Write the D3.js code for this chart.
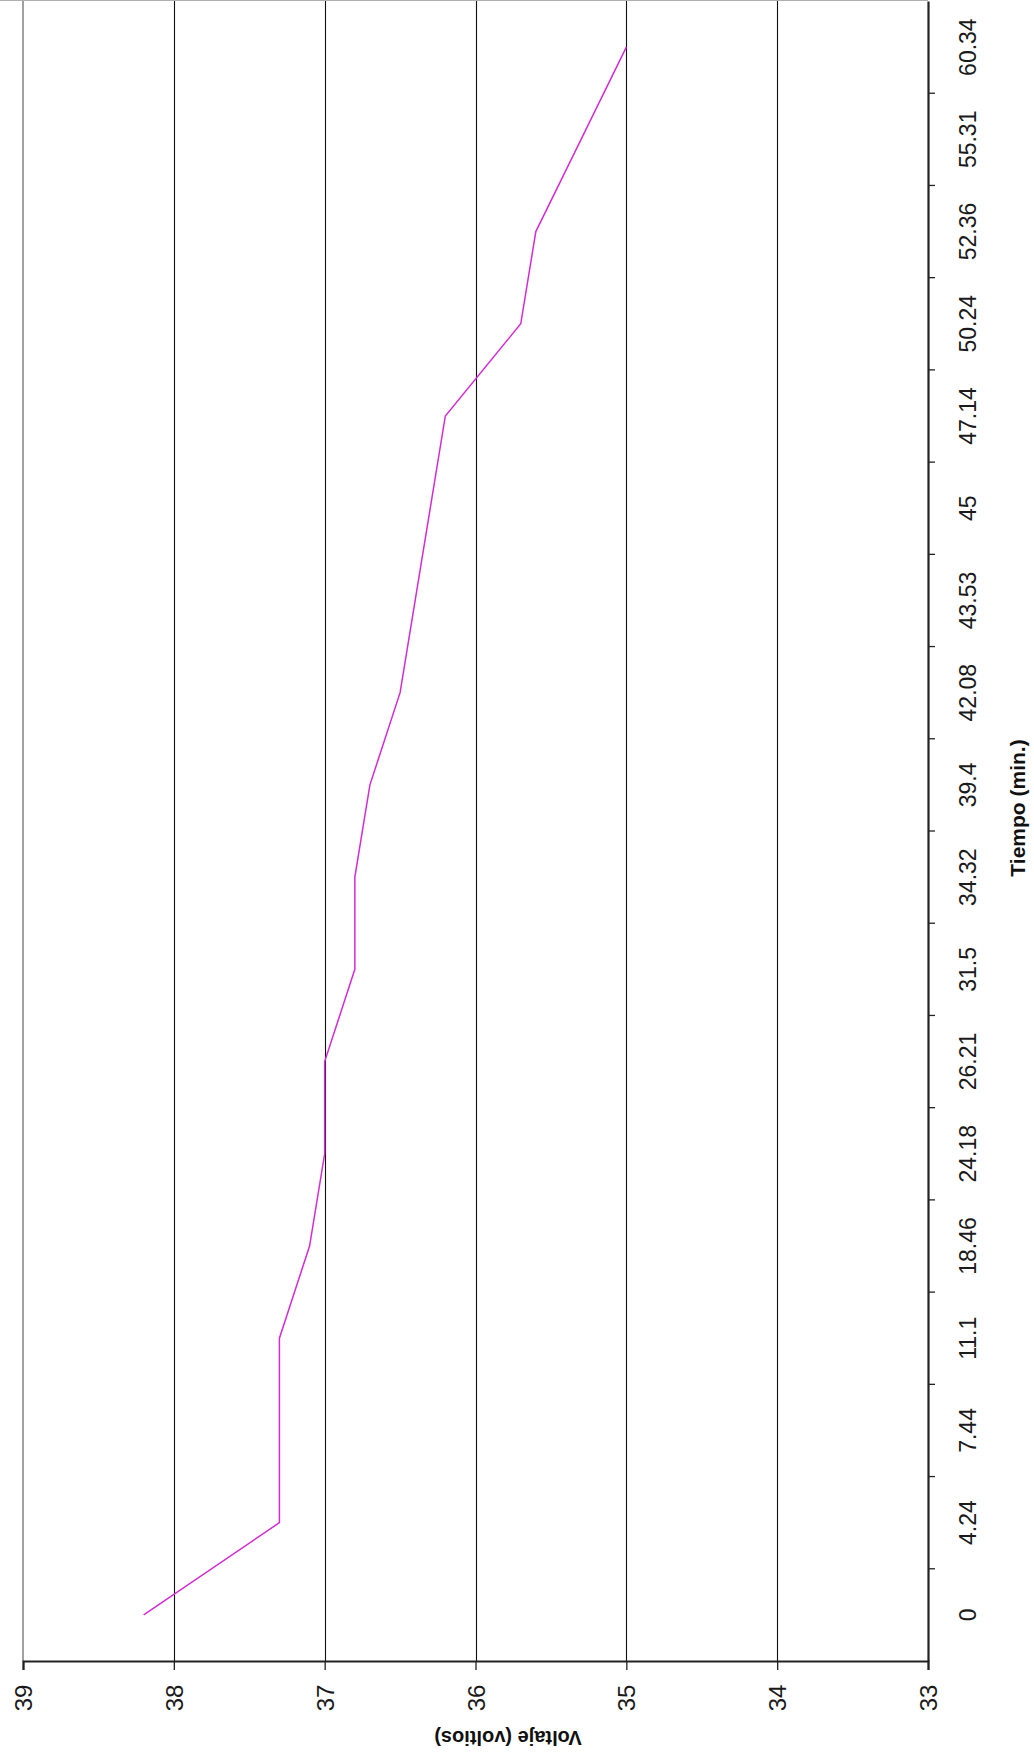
<!DOCTYPE html>
<html>
<head>
<meta charset="utf-8">
<script src="https://cdn.jsdelivr.net/npm/d3@7"></script>
<style>
body{margin:0;background:#fff;}
svg{display:block;}
.tick text{font-family:"Liberation Sans",Arial,sans-serif;fill:#1a1a1a;}
.title{font-family:"Liberation Sans",Arial,sans-serif;font-weight:bold;fill:#111;}
</style>
</head>
<body>
<div id="chart"></div>
<script>
var w = 1034;
var h = 1764;

// tiempo (min.) - categorias
var tiempos = ["0","4.24","7.44","11.1","18.46","24.18","26.21","31.5","34.32","39.4","42.08","43.53","45","47.14","50.24","52.36","55.31","60.34"];
// voltaje (voltios)
var voltajes = [38.2,37.3,37.3,37.3,37.1,37.0,37.0,36.8,36.8,36.7,36.5,36.4,36.3,36.2,35.7,35.6,35.3,35.0];
var voltTicks = [39,38,37,36,35,34,33];

// plot edges (window.top is reserved, so pLeft/pTop...)
var pLeft=23, pRight=928, pTop=1, pBottom=1661;

var svg = d3.select("#chart").append("svg")
  .attr("width", w)
  .attr("height", h);

// chart is drawn turned: values run left->right, time runs bottom->top
var xScale = d3.scaleLinear().domain([39,33]).range([pLeft,pRight]);
var yScale = d3.scaleBand().domain(tiempos).range([pBottom,pTop]).padding(0);

// plot border (left + top)
svg.append("line").attr("x1",pLeft).attr("x2",pLeft).attr("y1",pTop).attr("y2",pBottom)
  .attr("stroke","#8a8a8a").attr("stroke-width",1.6);
svg.append("line").attr("x1",0).attr("x2",pRight).attr("y1",0.5).attr("y2",0.5)
  .attr("stroke","#b0b0b0").attr("stroke-width",1.2);

// gridlines
svg.append("g").selectAll("line")
  .data(voltTicks.filter(function(d){return d<39 && d>33;}))
  .enter().append("line")
  .attr("x1",function(d){return Math.round(xScale(d))+0.5;})
  .attr("x2",function(d){return Math.round(xScale(d))+0.5;})
  .attr("y1",pTop).attr("y2",pBottom)
  .attr("stroke","#111").attr("stroke-width",1.1);

// serie
var line = d3.line()
  .x(function(d){return xScale(d.v);})
  .y(function(d){return yScale(d.t)+yScale.bandwidth()/2;});
var serie = tiempos.map(function(t,i){return {t:t,v:voltajes[i]};});
svg.append("path").datum(serie)
  .attr("d",line)
  .attr("fill","none")
  .attr("stroke","#d42cd4")
  .attr("stroke-width",1.5);

// value axis (bottom)
var xAxis = svg.append("g")
  .attr("transform","translate(0,"+pBottom+")")
  .call(d3.axisBottom(xScale).tickValues(voltTicks).tickSize(9).tickFormat(d3.format("d")));
xAxis.select(".domain").attr("stroke","#222").attr("stroke-width",2.2);
xAxis.selectAll(".tick line").attr("stroke","#222").attr("stroke-width",1.3);
xAxis.selectAll(".tick text")
  .attr("y",0).attr("dy","0.36em")
  .attr("transform","translate(0,37) rotate(-90)")
  .style("text-anchor","middle")
  .style("font-size","24px");

// category axis (right)
var yAxis = svg.append("g")
  .attr("transform","translate("+pRight+",0)")
  .call(d3.axisRight(yScale).tickSize(0).tickSizeOuter(0));
yAxis.select(".domain").attr("stroke","#222").attr("stroke-width",2.2);
yAxis.selectAll(".tick text")
  .attr("x",0).attr("dy","0.36em")
  .attr("transform","translate(40,0) rotate(-90)")
  .style("text-anchor","middle")
  .style("font-size","23px");

// ticks between categories
var bounds = d3.range(1,tiempos.length).map(function(i){return pBottom-i*yScale.step();});
svg.append("g").selectAll("line").data(bounds).enter().append("line")
  .attr("x1",pRight).attr("x2",pRight+7)
  .attr("y1",function(d){return d;}).attr("y2",function(d){return d;})
  .attr("stroke","#222").attr("stroke-width",1.3);

// axis titles
svg.append("text").attr("class","title")
  .attr("transform","translate(508,1738) rotate(180)")
  .attr("dy","0.35em")
  .style("text-anchor","middle")
  .style("font-size","20px")
  .text("Voltaje (voltios)");

svg.append("text").attr("class","title")
  .attr("transform","translate(1018,808) rotate(-90)")
  .attr("dy","0.35em")
  .style("text-anchor","middle")
  .style("font-size","21px")
  .text("Tiempo (min.)");
</script>
</body>
</html>
